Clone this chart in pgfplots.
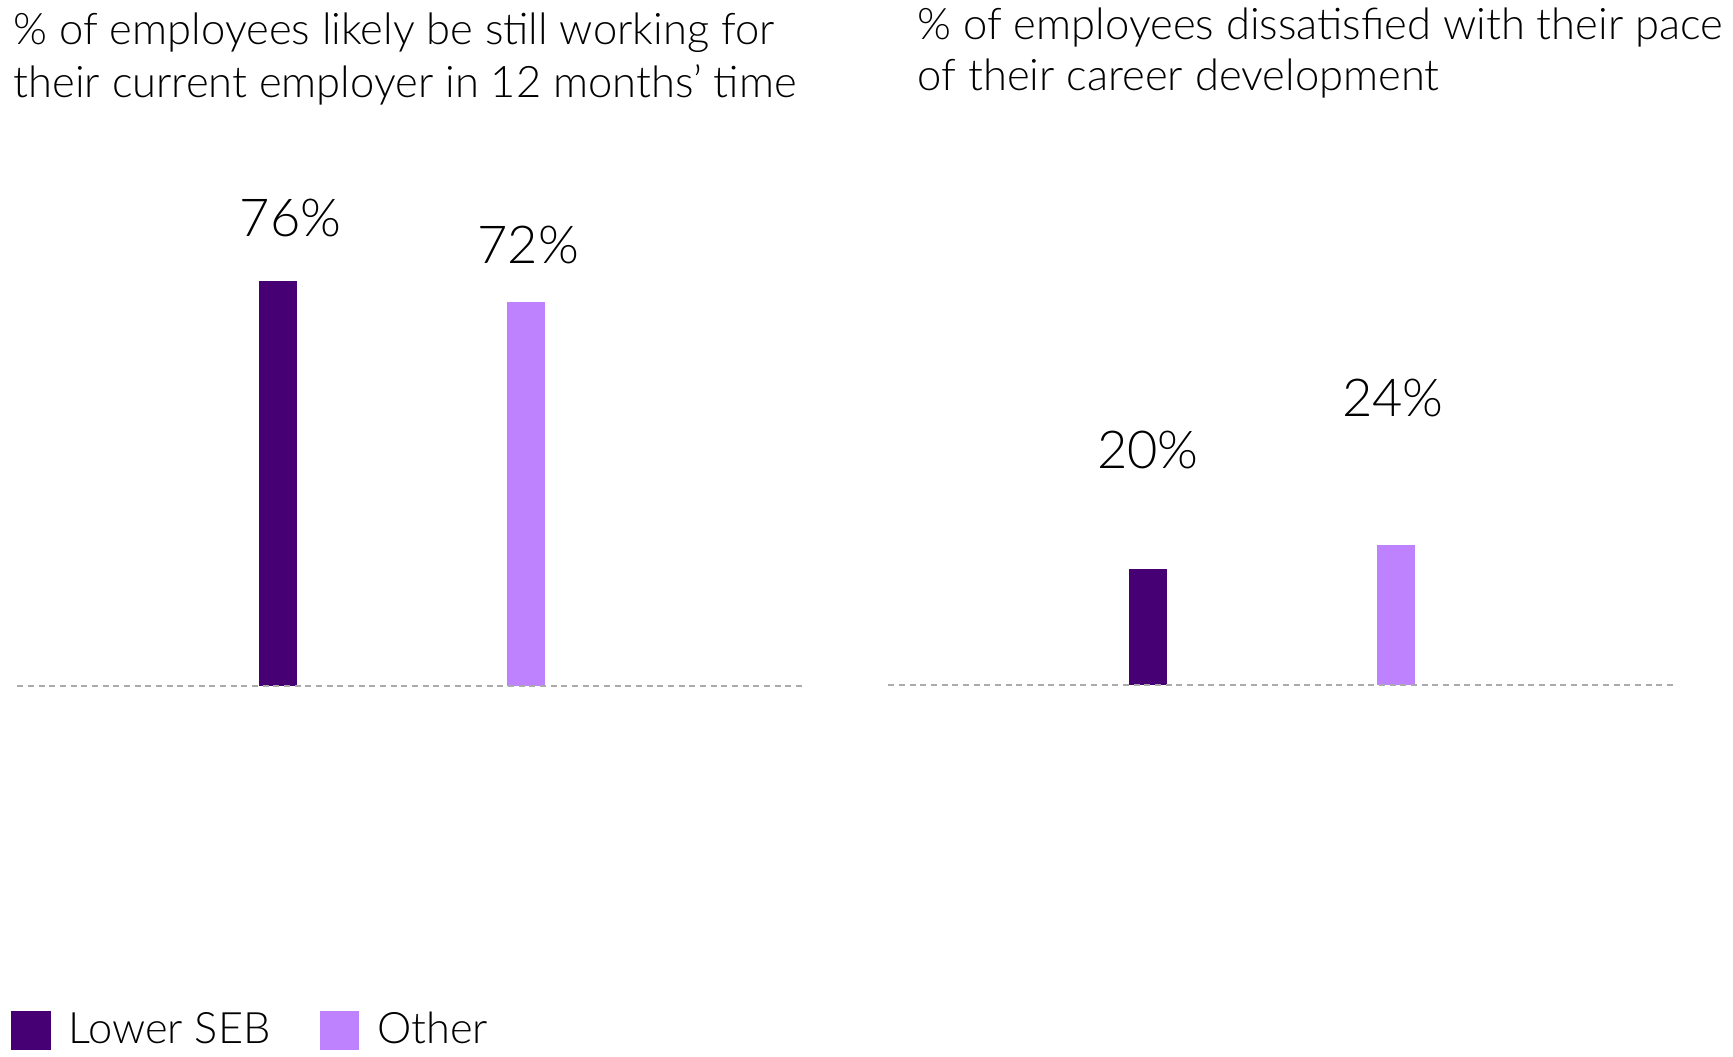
\documentclass[border=0pt]{standalone}
\usepackage{pgfplots}
\pgfplotsset{compat=1.18}
\usepackage{fontspec}
\setmainfont{Lato}[UprightFont={* Light}]
\definecolor{darkp}{HTML}{460073}
\definecolor{lightp}{HTML}{BE82FF}
\definecolor{dashg}{HTML}{ABABAB}
\begin{document}
\begin{tikzpicture}
\useasboundingbox (0,0) rectangle (519.9pt,316.8pt);
% titles
\node[anchor=base west, inner sep=0pt, font=\fontsize{13.05}{15}\selectfont] at (3.9pt,303.5pt) {\% of employees likely be still working for};
\node[anchor=base west, inner sep=0pt, font=\fontsize{13.05}{15}\selectfont] at (3.9pt,287.6pt) {their current employer in 12 months’ time};
\node[anchor=base west, inner sep=0pt, font=\fontsize{13.05}{15}\selectfont] at (275.1pt,305.0pt) {\% of employees dissatisfied with their pace};
\node[anchor=base west, inner sep=0pt, font=\fontsize{13.05}{15}\selectfont] at (275.1pt,289.6pt) {of their career development};
% left panel
\begin{axis}[
  at={(5.19pt,111.09pt)}, anchor=south west,
  scale only axis, width=235.3pt, height=159.9pt,
  xmin=-1.053, xmax=2.113, ymin=0, ymax=100,
  hide axis, clip=false,
  legend columns=2,
  legend style={at={(rel axis cs:-0.0085,-0.647)}, anchor=west, draw=none, fill=none,
    inner sep=0pt, font=\fontsize{13}{15}\selectfont,
    nodes={inner sep=0pt, anchor=base west},
    /tikz/every odd column/.append style={column sep=5.4pt},
    /tikz/every even column/.append style={column sep=14.8pt}},
  legend image code/.code={\fill[#1] (0pt,-2.1pt) rectangle (11.8pt,9.7pt);},
]
\addplot[ybar, bar shift=0pt, bar width=11.4pt, fill=darkp, draw=none] coordinates {(0,76)};
\addlegendentry{Lower SEB}
\addplot[ybar, bar shift=0pt, bar width=11.4pt, fill=lightp, draw=none] coordinates {(1,72)};
\addlegendentry{Other}
\addplot[dashg, line width=0.6pt, dash pattern=on 1.8pt off 1.4pt, forget plot] coordinates {(-1.053,0) (2.113,0)};
\node[anchor=base, inner sep=0pt, font=\fontsize{15.7}{18}\selectfont] at (axis cs:0.05,84.2) {76\%};
\node[anchor=base, inner sep=0pt, font=\fontsize{15.7}{18}\selectfont] at (axis cs:1.01,79.3) {72\%};
\end{axis}
% right panel
\begin{axis}[
  at={(266.5pt,111.3pt)}, anchor=south west,
  scale only axis, width=235.7pt, height=174.75pt,
  xmin=-1.045, xmax=2.12, ymin=0, ymax=100,
  hide axis, clip=false,
]
\addplot[ybar, bar shift=0pt, bar width=11.4pt, fill=darkp, draw=none] coordinates {(0,20)};
\addplot[ybar, bar shift=0pt, bar width=11.4pt, fill=lightp, draw=none] coordinates {(1,24)};
\addplot[dashg, line width=0.6pt, dash pattern=on 1.8pt off 1.4pt] coordinates {(-1.045,0) (2.12,0)};
\node[anchor=base, inner sep=0pt, font=\fontsize{15.7}{18}\selectfont] at (axis cs:0,37.25) {20\%};
\node[anchor=base, inner sep=0pt, font=\fontsize{15.7}{18}\selectfont] at (axis cs:0.988,46.06) {24\%};
\end{axis}
\end{tikzpicture}
\end{document}
